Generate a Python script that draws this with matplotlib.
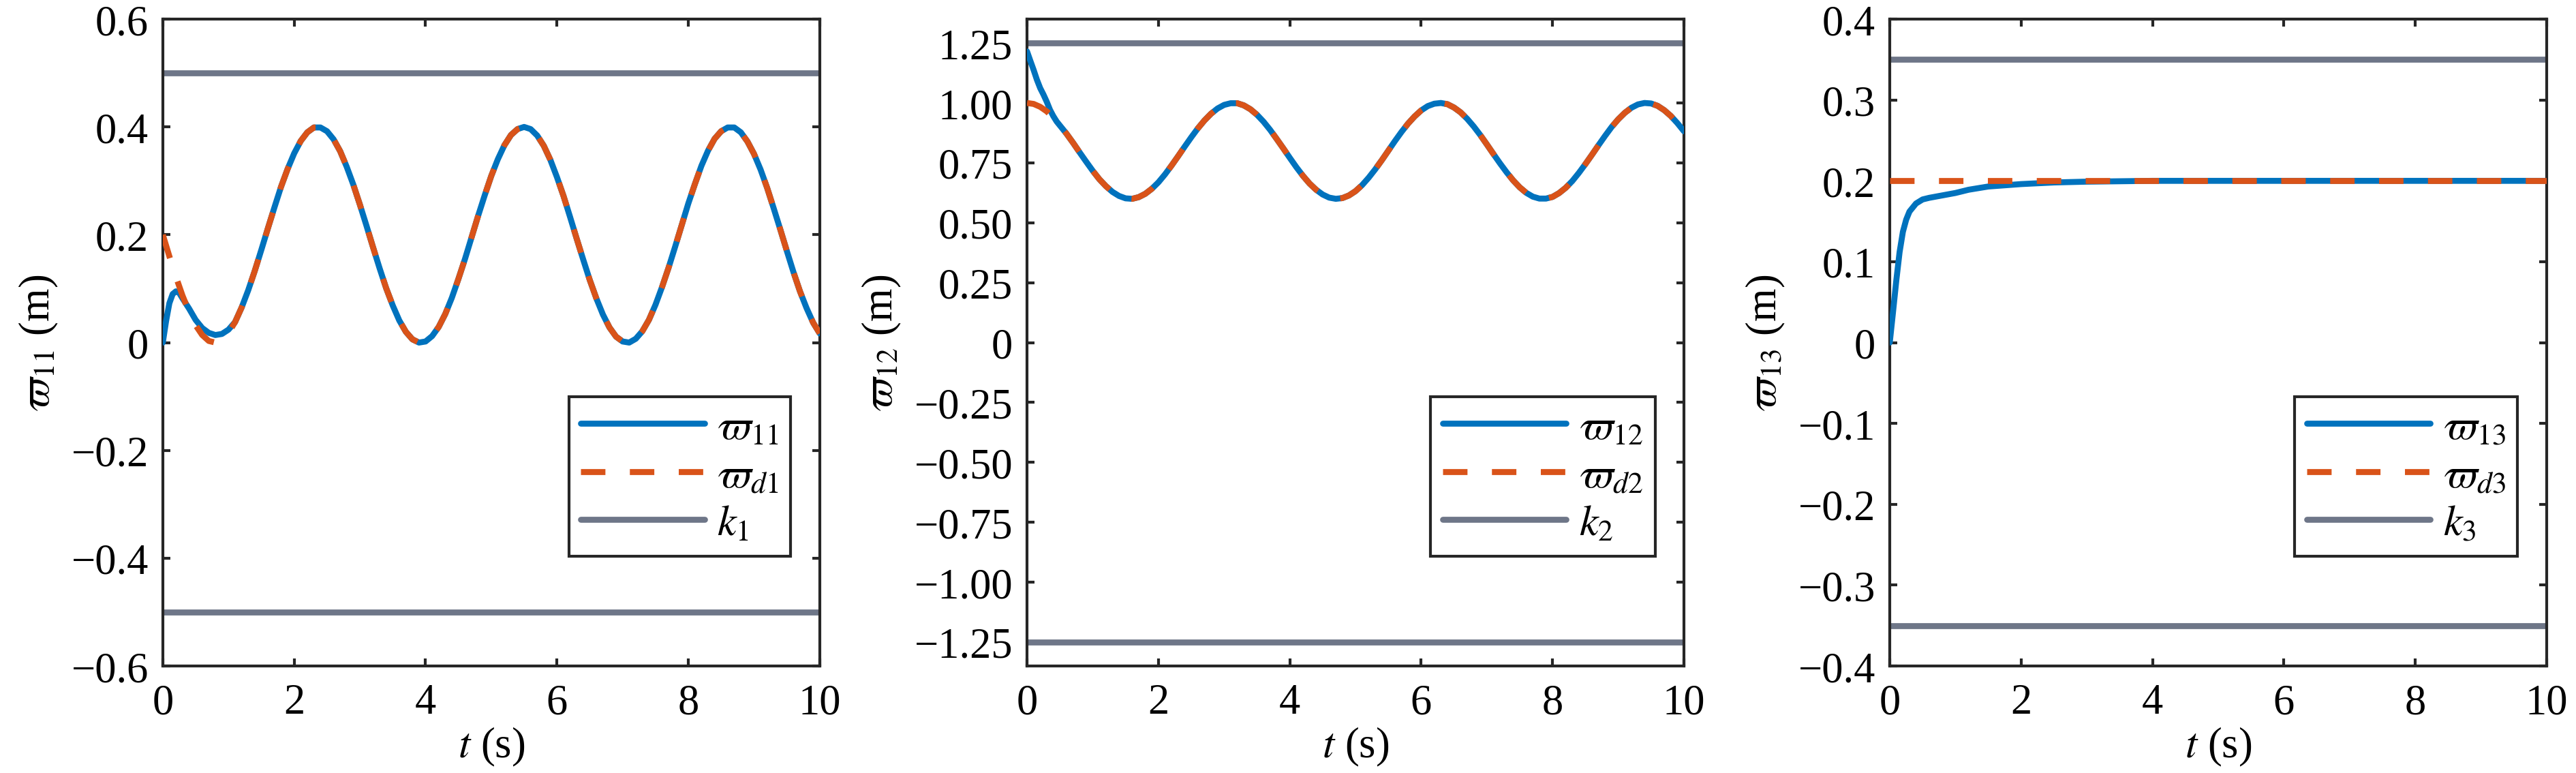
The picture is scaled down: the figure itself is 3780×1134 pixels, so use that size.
import numpy as np
import matplotlib.pyplot as plt

plt.rcParams.update({
    "font.family": ["Liberation Serif", "DejaVu Serif"],
    "mathtext.fontset": "stix",
    "font.size": 15,
    "axes.linewidth": 1.0,
    "axes.edgecolor": "#262626",
    "xtick.direction": "in",
    "ytick.direction": "in",
    "xtick.top": True,
    "ytick.right": True,
    "xtick.major.size": 2.6,
    "ytick.major.size": 2.6,
    "xtick.major.width": 1.0,
    "ytick.major.width": 1.0,
    "xtick.color": "#262626",
    "ytick.color": "#262626",
    "xtick.labelcolor": "black",
    "ytick.labelcolor": "black",
    "xtick.major.pad": 6,
    "ytick.major.pad": 5,
})

BLUE = "#0072BD"
ORANGE = "#D95319"
GREY = "#6E7688"
LW = 2.1

# time grid of the desired signals (s)
t = np.linspace(0, 10, 101)

# desired signals, t = 0, 0.1, ..., 10
w_d1 = [0.200, 0.160, 0.122, 0.087, 0.057, 0.032, 0.014, 0.003, 0.000, 0.005,
        0.018, 0.038, 0.065, 0.097, 0.133, 0.172, 0.212, 0.251, 0.289, 0.322,
        0.351, 0.374, 0.390, 0.399, 0.399, 0.392, 0.377, 0.355, 0.326, 0.293,
        0.256, 0.217, 0.177, 0.138, 0.101, 0.069, 0.041, 0.020, 0.006, 0.000,
        0.002, 0.012, 0.029, 0.053, 0.083, 0.118, 0.155, 0.195, 0.235, 0.273,
        0.309, 0.340, 0.366, 0.385, 0.396, 0.400, 0.396, 0.384, 0.365, 0.339,
        0.307, 0.272, 0.233, 0.193, 0.154, 0.116, 0.082, 0.052, 0.028, 0.011,
        0.002, 0.000, 0.007, 0.021, 0.042, 0.070, 0.103, 0.139, 0.178, 0.218,
        0.258, 0.294, 0.328, 0.356, 0.378, 0.392, 0.399, 0.399, 0.390, 0.373,
        0.350, 0.321, 0.287, 0.249, 0.210, 0.170, 0.131, 0.095, 0.064, 0.037,
        0.017]

w_d2 = [1.000, 0.996, 0.984, 0.965, 0.939, 0.908, 0.872, 0.834, 0.794, 0.755,
        0.717, 0.682, 0.653, 0.629, 0.612, 0.602, 0.600, 0.607, 0.621, 0.642,
        0.669, 0.702, 0.739, 0.778, 0.818, 0.857, 0.894, 0.927, 0.955, 0.977,
        0.992, 0.999, 0.999, 0.990, 0.974, 0.951, 0.922, 0.888, 0.850, 0.811,
        0.771, 0.732, 0.696, 0.664, 0.638, 0.618, 0.605, 0.600, 0.603, 0.614,
        0.632, 0.657, 0.688, 0.723, 0.761, 0.801, 0.841, 0.879, 0.914, 0.944,
        0.969, 0.987, 0.997, 1.000, 0.995, 0.981, 0.961, 0.934, 0.902, 0.866,
        0.827, 0.787, 0.748, 0.711, 0.677, 0.648, 0.625, 0.609, 0.601, 0.601,
        0.608, 0.624, 0.646, 0.674, 0.708, 0.745, 0.784, 0.824, 0.863, 0.900,
        0.932, 0.959, 0.980, 0.994, 1.000, 0.998, 0.988, 0.970, 0.946, 0.916,
        0.882]

t_d3 = [0, 10]
w_d3 = [0.2, 0.2]

# start-up of the actual outputs, before they lock onto the desired curves
t11_head = [0, 0.05, 0.1, 0.15, 0.2, 0.25, 0.3, 0.4, 0.5, 0.6, 0.7, 0.8, 0.9, 1.0]
w11_head = [0.000, 0.040, 0.073, 0.090, 0.095, 0.092, 0.082, 0.063, 0.042,
            0.027, 0.018, 0.014, 0.016, 0.024]
join11 = 11  # index in t where w11 meets w_d1 (t = 1.1)

t12_head = [0, 0.05, 0.1, 0.15, 0.2, 0.25, 0.3, 0.35, 0.4, 0.45, 0.5]
w12_head = [1.215, 1.176, 1.138, 1.097, 1.062, 1.035, 1.005, 0.971, 0.945,
            0.923, 0.906]
join12 = 6  # t = 0.6

t13 = [0, 0.05, 0.1, 0.15, 0.2, 0.25, 0.3, 0.4, 0.5, 0.6, 0.8, 1.0, 1.2,
       1.5, 2.0, 2.5, 3.0, 4.0, 10.0]
w13 = [0.000, 0.038, 0.077, 0.112, 0.137, 0.152, 0.162, 0.172, 0.177, 0.179,
       0.182, 0.185, 0.189, 0.193, 0.196, 0.198, 0.199, 0.200, 0.200]

# bounds k_i
k_bounds = [0.5, 1.25, 0.35]

y_lims = [(-0.6, 0.6), (-1.35, 1.35), (-0.4, 0.4)]
y_ticks = [
    [-0.6, -0.4, -0.2, 0, 0.2, 0.4, 0.6],
    [-1.25, -1.0, -0.75, -0.5, -0.25, 0, 0.25, 0.5, 0.75, 1.0, 1.25],
    [-0.4, -0.3, -0.2, -0.1, 0, 0.1, 0.2, 0.3, 0.4],
]
y_ticklabels = [
    ["\u22120.6", "\u22120.4", "\u22120.2", "0", "0.2", "0.4", "0.6"],
    ["\u22121.25", "\u22121.00", "\u22120.75", "\u22120.50", "\u22120.25", "0",
     "0.25", "0.50", "0.75", "1.00", "1.25"],
    ["\u22120.4", "\u22120.3", "\u22120.2", "\u22120.1", "0", "0.1", "0.2",
     "0.3", "0.4"],
]
x_ticks = [0, 2, 4, 6, 8, 10]

names = ["11", "12", "13"]
d_names = ["d1", "d2", "d3"]
k_names = ["1", "2", "3"]


def main():
    fig = plt.figure(figsize=(12.6, 3.7833), dpi=300)
    lefts = [0.0632, 0.3987, 0.7336]
    w, b, h = 0.2550, 0.1383, 0.8361

    actual = [
        (list(t11_head) + list(t[join11:]), list(w11_head) + list(w_d1[join11:])),
        (list(t12_head) + list(t[join12:]), list(w12_head) + list(w_d2[join12:])),
        (t13, w13),
    ]
    desired = [(t, w_d1), (t, w_d2), (t_d3, w_d3)]

    for i in range(3):
        ax = fig.add_axes([lefts[i], b, w, h])
        ta, wa = actual[i]
        td, wd = desired[i]
        k = k_bounds[i]
        ax.plot(ta, wa, color=BLUE, lw=LW, solid_capstyle="round",
                label=rf"$\varpi_{{{names[i]}}}$", zorder=3)
        ax.plot(td, wd, color=ORANGE, lw=LW, ls=(0, (4.1, 4.1)),
                dash_capstyle="butt", label=rf"$\varpi_{{{d_names[i]}}}$",
                zorder=4)
        ax.plot([0, 10], [k, k], color=GREY, lw=LW, solid_capstyle="round",
                label=rf"$k_{k_names[i]}$", zorder=2)
        ax.plot([0, 10], [-k, -k], color=GREY, lw=LW, solid_capstyle="round",
                zorder=2)

        ax.set_xlim(0, 10)
        ax.set_ylim(*y_lims[i])
        ax.set_xticks(x_ticks)
        ax.set_xticklabels([str(v) for v in x_ticks])
        ax.set_yticks(y_ticks[i])
        ax.set_yticklabels(y_ticklabels[i])
        ax.set_xlabel(r"$t$ (s)", labelpad=1)
        ax.set_ylabel(rf"$\varpi_{{{names[i]}}}$ (m)", labelpad=4)

        leg = ax.legend(loc="lower right", bbox_to_anchor=(0.956, 0.17),
                        borderaxespad=0, fancybox=False, framealpha=1,
                        edgecolor="#262626", handlelength=2.9,
                        handletextpad=0.3, labelspacing=0.2, borderpad=0.28,
                        fontsize=15)
        leg.get_frame().set_linewidth(1.0)

    fig.savefig("out.png", dpi=300)


if __name__ == "__main__":
    main()
